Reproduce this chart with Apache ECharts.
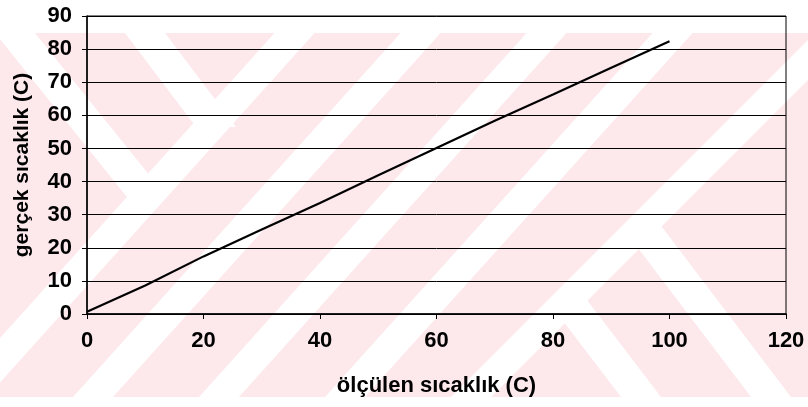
<!DOCTYPE html>
<html>
<head>
<meta charset="utf-8">
<script src="https://cdn.jsdelivr.net/npm/echarts@6/dist/echarts.min.js"></script>
<style>
html,body{margin:0;padding:0;background:#fff;}
#chart{width:808px;height:407px;}
</style>
</head>
<body>
<div id="chart"></div>
<script>
// ---- data ----
var measured = [0, 10, 20, 30, 40, 50, 60, 70, 80, 90, 100];          // ölçülen sıcaklık (C)
var actual   = [0.7, 8.6, 17.4, 25.5, 33.5, 41.9, 50.1, 58.4, 66.3, 74.4, 82.4]; // gerçek sıcaklık (C)
var xTicks = [0, 20, 40, 60, 80, 100, 120];
var yTicks = [0, 10, 20, 30, 40, 50, 60, 70, 80, 90];
var xTitle = 'ölçülen sıcaklık (C)';
var yTitle = 'gerçek sıcaklık (C)';

// ---- background watermark (decoration only) ----
var PINK = '#fde8ec';
var TOP = 33, BOT = 397;
var wm = [];
wm.push({type:'rect', z:-30, shape:{x:0, y:TOP, width:808, height:BOT-TOP}, style:{fill:PINK}, silent:true});
function slash(x0, s, w){ // "/" stripe, x0 = centre at y=BOT
  var xb = x0, xt = x0 + (BOT-TOP)*s;
  return {type:'polygon', z:-20, silent:true, shape:{points:[[xb-w/2,BOT],[xb+w/2,BOT],[xt+w/2,TOP],[xt-w/2,TOP]]}, style:{fill:'#fff'}};
}
function back(xa, ya, xb, yb, w){ // "\" stripe segment
  return {type:'polygon', z:-20, silent:true, shape:{points:[[xa-w/2,ya],[xa+w/2,ya],[xb+w/2,yb],[xb-w/2,yb]]}, style:{fill:'#fff'}};
}
[-33, 93, 219, 345].forEach(function(x){ wm.push(slash(x, 0.9, 40)); });
wm.push(slash(471, 1.0, 40));
wm.push(back(15, TOP, 147, 197, 40));
wm.push(back(145, TOP, 216, 127, 40));
wm.push(back(642, 227, 771, BOT, 40));
wm.push(back(567, 300, 641, BOT, 40));
wm.push({type:'rect', z:-10, silent:true, shape:{x:0, y:0, width:808, height:TOP}, style:{fill:'#fff'}});
wm.push({type:'rect', z:-10, silent:true, shape:{x:0, y:BOT, width:808, height:407-BOT}, style:{fill:'#fff'}});

var pts = measured.map(function(x, i){ return [x, actual[i]]; });
var FONT = 'Liberation Sans, Arial, sans-serif';

var chart = echarts.init(document.getElementById('chart'), null, {renderer:'canvas'});
chart.setOption({
  animation:false,
  backgroundColor:'#fff',
  graphic: wm,
  grid:{left:87, right:22, top:16, bottom:93, show:true, borderColor:'#000', borderWidth:1, backgroundColor:'transparent'},
  xAxis:{
    type:'value', min:xTicks[0], max:xTicks[xTicks.length-1], interval:xTicks[1]-xTicks[0],
    axisLine:{show:true, lineStyle:{color:'#000', width:1.5}},
    axisTick:{show:true, inside:false, length:5, lineStyle:{color:'#000'}},
    splitLine:{show:false},
    axisLabel:{color:'#000', fontSize:22, fontWeight:'bold', fontFamily:FONT, margin:16},
    name:xTitle, nameLocation:'middle', nameGap:61,
    nameTextStyle:{color:'#000', fontSize:22, fontWeight:'bold', fontFamily:FONT}
  },
  yAxis:{
    type:'value', min:yTicks[0], max:yTicks[yTicks.length-1], interval:yTicks[1]-yTicks[0],
    axisLine:{show:true, lineStyle:{color:'#000', width:1.5}},
    axisTick:{show:true, inside:false, length:5, lineStyle:{color:'#000'}},
    splitLine:{show:true, lineStyle:{color:'#000', width:1}},
    axisLabel:{color:'#000', fontSize:22, fontWeight:'bold', fontFamily:FONT, margin:15},
    name:yTitle, nameLocation:'middle', nameGap:54, nameRotate:90,
    nameTextStyle:{color:'#000', fontSize:21, fontWeight:'bold', fontFamily:FONT}
  },
  series:[{
    type:'line', data:pts, symbol:'none', smooth:false,
    lineStyle:{color:'#000', width:2.2}
  }]
});
</script>
</body>
</html>
